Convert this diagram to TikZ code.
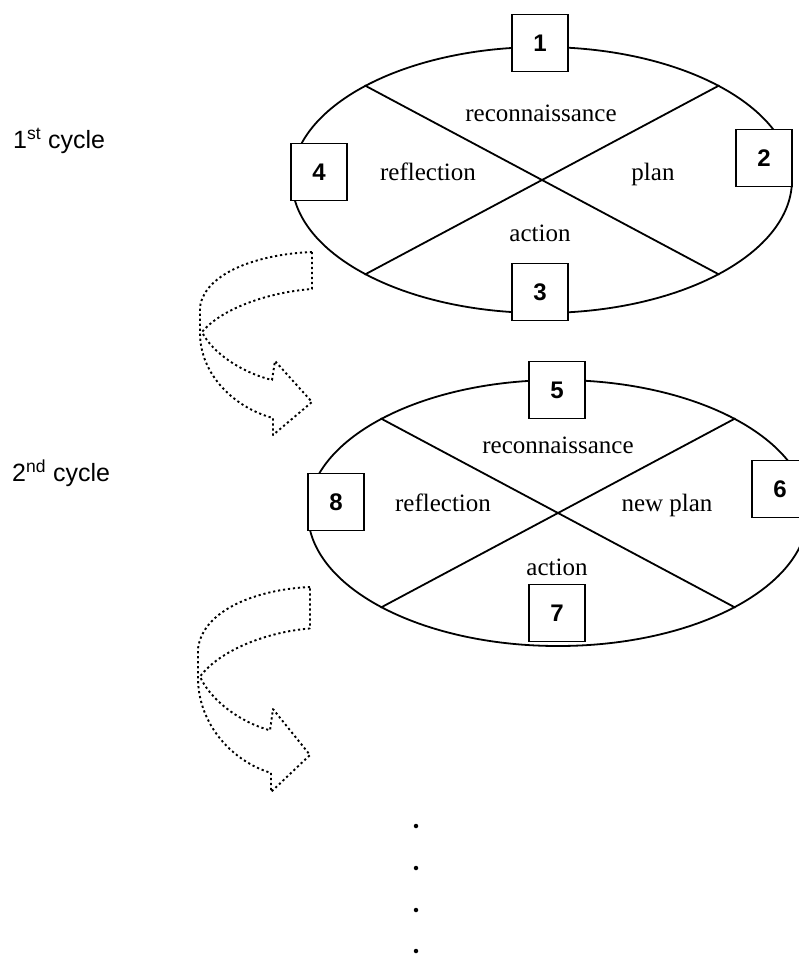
\documentclass[tikz,border=0pt]{standalone}
\usepackage{fontspec}
\setmainfont{Liberation Serif}
\newfontfamily\labsans{Liberation Sans}
\usetikzlibrary{shapes.geometric}
\begin{document}
\begin{tikzpicture}[x=1pt,y=-1pt,
  cyc/.style={draw, line width=1.8pt, ellipse, minimum width=500pt, minimum height=266pt, inner sep=0pt},
  xline/.style={line width=1.8pt},
  numbox/.style={draw, fill=white, line width=1.7pt, minimum width=56pt, minimum height=57pt, inner sep=0pt, font=\labsans\bfseries\fontsize{24}{28}\selectfont},
  lab/.style={font=\fontsize{25}{30}\selectfont, inner sep=0pt},
  cyclab/.style={font=\labsans\fontsize{25}{30}\selectfont, anchor=west, inner sep=0pt},
  dotarrow/.style={line width=1.9pt, dash pattern=on 2.2pt off 2.8pt, line join=round},
  dotn/.style={circle, fill=black, inner sep=0pt, minimum size=4.5pt}]
\useasboundingbox (0,0) rectangle (799,954);

% cycle labels
\node[cyclab] (c1) at (13,141) {1\textsuperscript{st} cycle};
\node[cyclab] (c2) at (12,473) {2\textsuperscript{nd} cycle};

% first cycle
\node[cyc] (e1) at (542,180) {};
\draw[xline] (e1.north west) -- (e1.south east);
\draw[xline] (e1.north east) -- (e1.south west);
\node[lab] (r1) at (541,113) {reconnaissance};
\node[lab] (f1) at (428,172) {reflection};
\node[lab] (p1) at (653,174) {plan};
\node[lab] (a1) at (540,233) {action};
\node[numbox] (b1) at (540,43) {1};
\node[numbox] (b2) at (764,158) {2};
\node[numbox] (b3) at (540,292) {3};
\node[numbox] (b4) at (319,172) {4};

% second cycle
\node[cyc] (e2) at (558,513) {};
\draw[xline] (e2.north west) -- (e2.south east);
\draw[xline] (e2.north east) -- (e2.south west);
\node[lab] (r2) at (558,445) {reconnaissance};
\node[lab] (f2) at (443,503) {reflection};
\node[lab] (p2) at (667,505) {new plan};
\node[lab] (a2) at (557,567) {action};
\node[numbox] (b5) at (557,390) {5};
\node[numbox] (b6) at (780,489) {6};
\node[numbox] (b7) at (557,613) {7};
\node[numbox] (b8) at (336,502) {8};

% curved dotted arrows
\begin{scope}[shift={(312,252)}]
\draw[dotarrow] (0,0) .. controls (-52,2) and (-107,20) .. (-112,55) -- (-112,81)
  .. controls (-112,123) and (-77,156) .. (-39,166) -- (-39,183) -- (0,150) -- (-37,109) -- (-40,128)
  .. controls (-72,120) and (-100,100) .. (-110,80)
  .. controls (-90,56) and (-42,40) .. (0,37) -- cycle;
\end{scope}
\begin{scope}[shift={(310,587)}, yscale=1.12]
\draw[dotarrow] (0,0) .. controls (-52,2) and (-107,20) .. (-112,55) -- (-112,81)
  .. controls (-112,123) and (-77,156) .. (-39,166) -- (-39,183) -- (0,150) -- (-37,109) -- (-40,128)
  .. controls (-72,120) and (-100,100) .. (-110,80)
  .. controls (-90,56) and (-42,40) .. (0,37) -- cycle;
\end{scope}

% continuation dots
\node[dotn] (d1) at (416,826) {};
\node[dotn] (d2) at (416,868) {};
\node[dotn] (d3) at (416,910) {};
\node[dotn] (d4) at (416,951) {};
\end{tikzpicture}
\end{document}
